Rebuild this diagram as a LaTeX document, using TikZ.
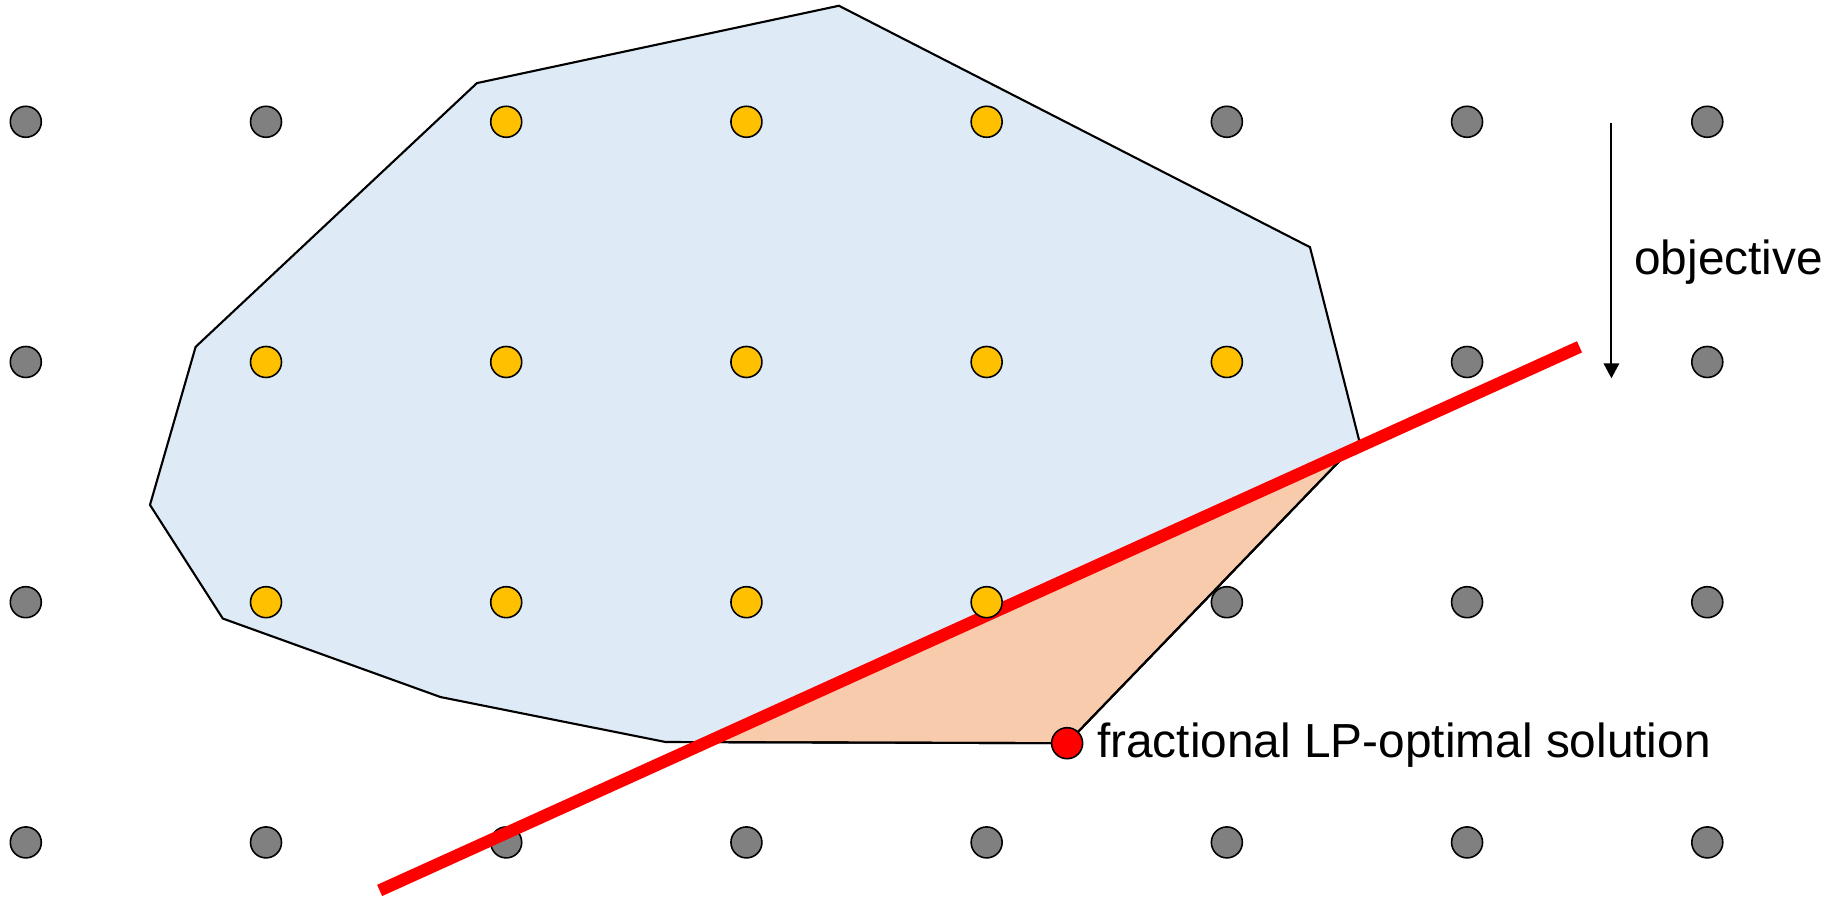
\documentclass[tikz,border=0pt]{standalone}
\usepackage{fontspec}
\setmainfont{Liberation Sans}
\usetikzlibrary{arrows.meta}
\definecolor{slate}{RGB}{128,128,128}
\definecolor{gold}{RGB}{255,192,0}
\definecolor{sky}{RGB}{222,235,247}
\definecolor{peach}{RGB}{248,203,173}
\definecolor{cutred}{RGB}{255,0,0}
\tikzset{
  >={Triangle[length=1.5mm,width=1.55mm]},
  pt/.style={circle,draw=black,fill=#1,line width=0.45pt,inner sep=0pt,minimum size=3.1mm},
  pt/.default=slate,
  hull/.style={draw=black,line width=0.6pt},
  cut/.style={draw=cutred,line width=3.5pt},
  lbl/.style={font=\fontsize{13.6}{16}\selectfont,inner sep=0pt},
}

\begin{document}
\begin{tikzpicture}[x=2.402cm,y=2.402cm]
  \useasboundingbox (-0.1074,-0.2273) rectangle (7.540,3.507);
  % polytope corners
  \foreach \x/\y [count=\k] in {1.878/3.161,3.385/3.483,5.346/2.478,5.551/1.673,4.335/0.413,
    2.663/0.418,1.727/0.605,0.820/0.932,0.517/1.405,0.707/2.063}
    \coordinate (v\k) at (\x,\y);
  \coordinate (ca) at (1.473,-0.200);
  \coordinate (cb) at (6.468,2.063);
  \fill[sky] (v1) \foreach \k in {2,...,10}{-- (v\k)} -- cycle;
  \filldraw[peach,hull] (intersection of ca--cb and v5--v6) -- (intersection of ca--cb and v4--v5) -- (v5) -- cycle;
  \draw[hull] (v1) \foreach \k in {2,...,10}{-- (v\k)} -- cycle;
  % lattice
  \foreach \j/\lo/\hi in {0/8/7,1/1/4,2/1/5,3/2/4}
    \foreach \i in {0,...,7}{
      \ifnum\i<\lo \node[pt] (z\i\j) at (\i,\j) {};
      \else\ifnum\i>\hi \node[pt] (z\i\j) at (\i,\j) {};\fi\fi}
  \draw[cut] (ca) -- (cb);
  \foreach \j/\lo/\hi in {1/1/4,2/1/5,3/2/4}
    \foreach \i in {\lo,...,\hi}
      \node[pt=gold] (z\i\j) at (\i,\j) {};
  \node[pt=cutred] (lp) at (v5) {};
  \node[lbl,anchor=base west] (lplbl) at (4.457,0.3555) {fractional LP-optimal solution};
  \coordinate (objtop) at (6.601,2.995);
  \coordinate (objend) at (6.601,1.932);
  \draw[->,line width=0.55pt] (objtop) -- (objend);
  \node[lbl,anchor=base west] (objlbl) at (6.693,2.366) {objective};
\end{tikzpicture}
\end{document}
